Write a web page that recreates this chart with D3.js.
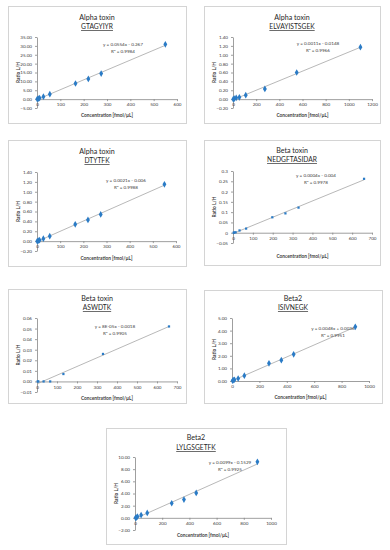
<!DOCTYPE html>
<html>
<head>
<meta charset="utf-8">
<script src="https://cdnjs.cloudflare.com/ajax/libs/d3/7.8.5/d3.min.js"></script>
<style>
  html, body { margin: 0; padding: 0; background: #fff; }
  svg { display: block; font-family: Lato, "Liberation Sans", sans-serif; }
</style>
</head>
<body>
<script>
// values, one entry per panel
const toxins = ['Alpha toxin', 'Alpha toxin', 'Alpha toxin', 'Beta toxin', 'Beta toxin', 'Beta2', 'Beta2']
const peptides = ['GTAGYIYR', 'ELVAYISTSGEK', 'DTYTFK', 'NEDGFTASIDAR', 'ASWDTK', 'ISIVNEGK', 'LYLGSGETFK']
const concentrations = [
  [1.1, 5.5, 11, 27.5, 55, 165, 220, 275, 550],
  [2.2, 11, 27.5, 55, 110, 275, 550, 1100],
  [1.1, 5.5, 11, 27.5, 55, 165, 220, 275, 550],
  [3.3, 6.6, 13.2, 33, 66, 198, 264, 330, 660],
  [3.3, 6.6, 33, 66, 132, 330, 660],
  [4.5, 9, 18, 45, 90, 270, 360, 450, 900],
  [4.5, 9, 18, 45, 90, 270, 360, 450, 900]
]
const ratios = [
  [0.05, 0.25, 0.6, 1.35, 2.8, 8.8, 11.4, 14.4, 30.9],
  [0.0, 0.01, 0.03, 0.04, 0.09, 0.23, 0.60, 1.17],
  [0.0, 0.01, 0.02, 0.05, 0.10, 0.34, 0.43, 0.54, 1.15],
  [0.0, 0.001, 0.002, 0.011, 0.02, 0.075, 0.094, 0.122, 0.262],
  [0.0, 0.0, 0.0, 0.0, 0.007, 0.026, 0.052],
  [0.02, 0.07, 0.1, 0.2, 0.42, 1.4, 1.65, 2.12, 4.3],
  [0.0, 0.05, 0.2, 0.45, 0.8, 2.4, 3.0, 4.1, 9.2]
]
const equations = ['y = 0.0554x - 0.267', 'y = 0.0011x - 0.0148', 'y = 0.0021x - 0.006', 'y = 0.0004x - 0.004',
  'y = 8E-05x - 0.0018', 'y = 0.0048x + 0.0036', 'y = 0.0099x - 0.1529']
const rSquared = ['R² = 0.9984', 'R² = 0.9966', 'R² = 0.9988', 'R² = 0.9978', 'R² = 0.9905', 'R² = 0.9951', 'R² = 0.9925']
const xMax = [600, 1200, 600, 700, 700, 1000, 1000]
const xStep = [100, 200, 100, 100, 100, 200, 200]
const yMin = [-5, -0.2, -0.2, -0.05, -0.01, 0, -2]
const yMax = [35, 1.4, 1.4, 0.3, 0.06, 5, 10]
const yStep = [5, 0.2, 0.2, 0.05, 0.01, 1, 2]
const yFormat = ['.2f', '.2f', '.2f', '~g', '.2f', '.2f', '.2f']
const markers = ['diamond', 'diamond', 'diamond', 'square', 'square', 'diamond', 'diamond']

// panel geometry: frame, plot box, text rows
const frames = [[8, 6, 178, 117], [204, 6, 176, 117], [8, 140, 178, 126], [204, 140, 176, 125],
  [8, 289, 178, 114], [204, 290, 178, 113], [106, 428, 180, 116]]
const plots = [[37, 177, 37, 108], [233, 372, 37, 108], [37, 176, 172, 251], [233, 372, 171, 243],
  [37, 177, 318, 392], [232, 369, 318, 381], [135, 271, 457, 530]]
const titleY = [[17, 26, 115], [17, 26, 115], [151, 160, 258], [150, 159, 256],
  [298, 307, 398], [298, 307, 397], [437, 447, 535]]
const eqPos = [[123, 44], [318, 43], [126, 180], [316, 175], [115, 326], [333, 328], [230, 462]]

const axisColor = '#868686'
const pointColor = '#2a7bc6'

const svg = d3.select('body').append('svg')
  .attr('width', 390)
  .attr('height', 550)

svg.append('rect').attr('width', 390).attr('height', 550).attr('fill', '#fff')

const fit = (xs, ys) => {
  const mx = d3.mean(xs)
  const my = d3.mean(ys)
  const b = d3.sum(xs, (x, i) => (x - mx) * (ys[i] - my)) / d3.sum(xs, x => (x - mx) * (x - mx))
  return {b, a: my - b * mx}
}

peptides.forEach((pep, i) => {
  const [fx, fy, fw, fh] = frames[i]
  const [px0, px1, pyt, pyb] = plots[i]
  const g = svg.append('g')

  g.append('rect')
    .attr('x', fx + 0.5).attr('y', fy + 0.5)
    .attr('width', fw).attr('height', fh)
    .attr('fill', '#fff')
    .attr('stroke', '#d4d4d4')

  const x = d3.scaleLinear().domain([0, xMax[i]]).range([px0, px1])
  const y = d3.scaleLinear().domain([yMin[i], yMax[i]]).range([pyb, pyt])

  const yTicks = d3.range(yMin[i], yMax[i] + yStep[i] / 2, yStep[i]).map(v => +v.toFixed(4))
  const xTicks = d3.range(0, xMax[i] + 1, xStep[i])

  const yAxis = g.append('g')
    .attr('transform', `translate(${x(0)},0)`)
    .call(d3.axisLeft(y).tickValues(yTicks).tickFormat(d3.format(yFormat[i])).tickSize(2).tickSizeOuter(0).tickPadding(3))
  const xAxis = g.append('g')
    .attr('transform', `translate(0,${y(0)})`)
    .call(d3.axisBottom(x).tickValues(xTicks).tickFormat(d3.format('d')).tickSize(2).tickSizeOuter(0).tickPadding(2))

  for (const ax of [yAxis, xAxis]) {
    ax.select('.domain').attr('stroke', axisColor).attr('stroke-width', 0.8)
    ax.selectAll('.tick line').attr('stroke', axisColor).attr('stroke-width', 0.8)
    ax.selectAll('.tick text')
      .attr('font-family', 'Lato, "Liberation Sans", sans-serif')
      .attr('font-size', 4.6)
      .attr('fill', '#404040')
  }

  // titles
  const cx = fx + fw / 2
  g.append('text')
    .attr('x', cx).attr('y', titleY[i][0])
    .attr('text-anchor', 'middle').attr('dominant-baseline', 'central')
    .attr('font-size', 7.1).attr('fill', '#262626')
    .text(toxins[i])
  g.append('text')
    .attr('x', cx).attr('y', titleY[i][1])
    .attr('text-anchor', 'middle').attr('dominant-baseline', 'central')
    .attr('font-size', 6.7).attr('fill', '#262626')
    .style('text-decoration', 'underline')
    .text(pep)
  g.append('text')
    .attr('x', (px0 + px1) / 2).attr('y', titleY[i][2])
    .attr('text-anchor', 'middle').attr('dominant-baseline', 'central')
    .attr('font-size', 4.8).attr('font-weight', 'bold').attr('fill', '#404040')
    .text('Concentration [fmol/µL]')
  g.append('text')
    .attr('transform', `translate(${fx + 10},${(pyt + pyb) / 2}) rotate(-90)`)
    .attr('text-anchor', 'middle').attr('dominant-baseline', 'central')
    .attr('font-size', 4.8).attr('font-weight', 'bold').attr('fill', '#404040')
    .text('Ratio L/H')

  // trendline
  const xs = concentrations[i]
  const ys = ratios[i]
  const {a, b} = fit(xs, ys)
  const x0 = d3.min(xs)
  const x1 = d3.max(xs)
  g.append('line')
    .attr('x1', x(x0)).attr('y1', y(a + b * x0))
    .attr('x2', x(x1)).attr('y2', y(a + b * x1))
    .attr('stroke', '#a6a6a6')
    .attr('stroke-width', 0.8)

  // points
  const sym = d3.symbol()
    .type(markers[i] === 'square' ? d3.symbolSquare : d3.symbolDiamond)
    .size(markers[i] === 'square' ? 5 : 13)
  g.selectAll('path.pt')
    .data(xs.map((v, k) => [v, ys[k]]))
    .join('path')
    .attr('class', 'pt')
    .attr('transform', d => `translate(${x(d[0])},${y(d[1])})`)
    .attr('d', sym)
    .attr('fill', pointColor)

  // equation label
  const [ex, ey] = eqPos[i]
  g.append('text')
    .attr('x', ex).attr('y', ey)
    .attr('text-anchor', 'middle').attr('dominant-baseline', 'central')
    .attr('font-size', 4.6).attr('fill', '#404040')
    .text(equations[i])
  g.append('text')
    .attr('x', ex).attr('y', ey + 6.5)
    .attr('text-anchor', 'middle').attr('dominant-baseline', 'central')
    .attr('font-size', 4.6).attr('fill', '#404040')
    .text(rSquared[i])
})
</script>
</body>
</html>
